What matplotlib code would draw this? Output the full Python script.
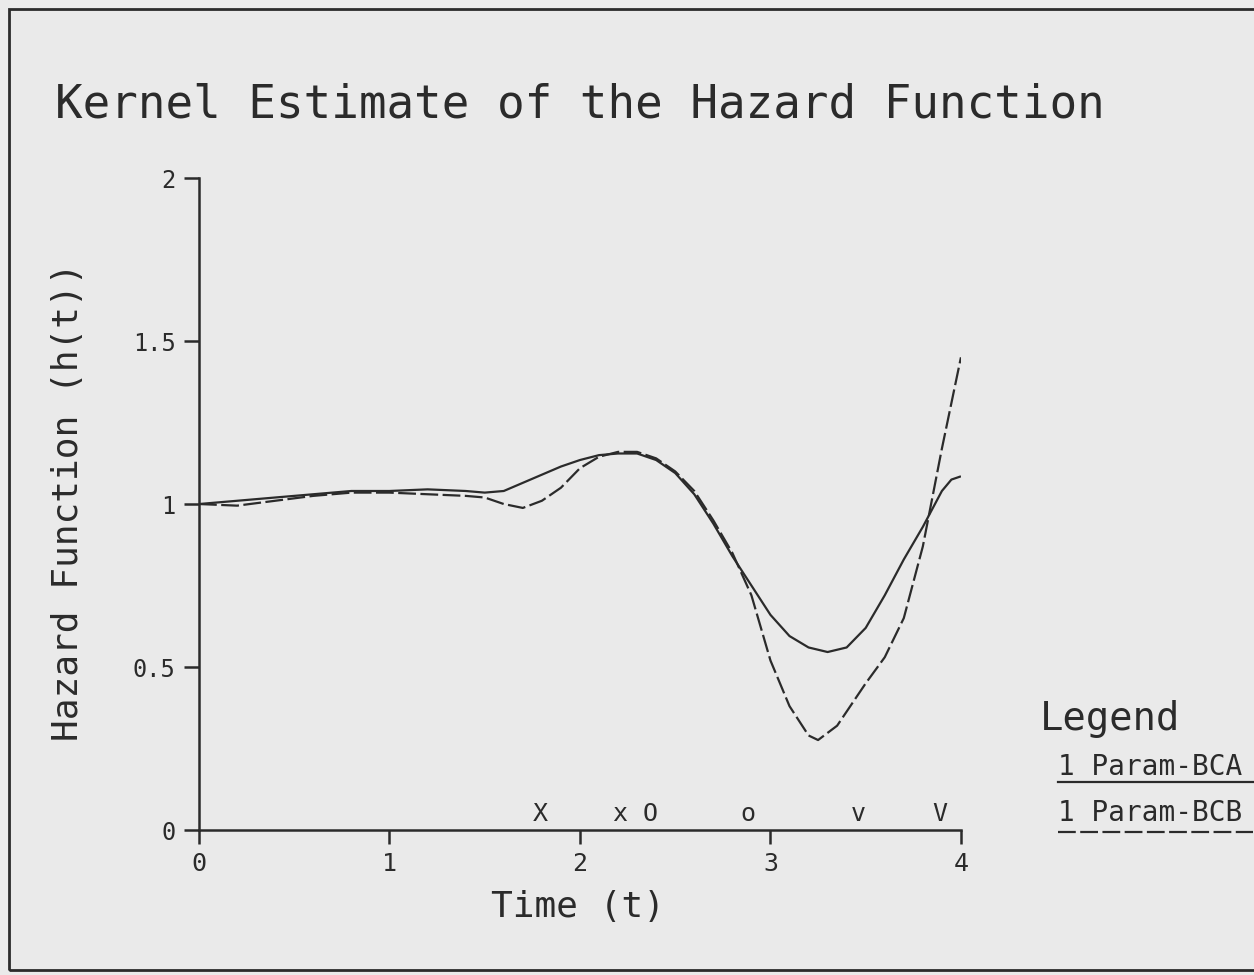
import matplotlib
matplotlib.use("Agg")
import matplotlib.pyplot as plt
from matplotlib.patches import Rectangle
from matplotlib.lines import Line2D

# Kernel hazard estimates
t_bca = [0.0, 0.2, 0.4, 0.6, 0.8, 1.0, 1.2, 1.4, 1.5, 1.6, 1.7, 1.8, 1.9, 2.0,
         2.1, 2.2, 2.3, 2.4, 2.5, 2.6, 2.7, 2.8, 2.9, 3.0, 3.1, 3.2, 3.3, 3.4,
         3.5, 3.6, 3.7, 3.8, 3.9, 3.95, 4.0]
h_bca = [1.00, 1.01, 1.02, 1.03, 1.04, 1.04, 1.045, 1.04, 1.035, 1.04, 1.065,
         1.09, 1.115, 1.135, 1.15, 1.155, 1.155, 1.135, 1.095, 1.03, 0.94, 0.84,
         0.75, 0.66, 0.595, 0.56, 0.546, 0.56, 0.62, 0.72, 0.83, 0.93, 1.04,
         1.075, 1.085]

t_bcb = [0.0, 0.2, 0.4, 0.6, 0.8, 1.0, 1.2, 1.4, 1.5, 1.6, 1.7, 1.8, 1.9, 2.0,
         2.1, 2.2, 2.3, 2.4, 2.5, 2.6, 2.7, 2.8, 2.9, 3.0, 3.1, 3.2, 3.25, 3.35,
         3.5, 3.6, 3.7, 3.8, 3.9, 4.0]
h_bcb = [1.00, 0.995, 1.01, 1.025, 1.035, 1.035, 1.03, 1.025, 1.02, 1.00, 0.988,
         1.01, 1.05, 1.11, 1.145, 1.16, 1.16, 1.14, 1.10, 1.04, 0.95, 0.85,
         0.72, 0.52, 0.38, 0.29, 0.276, 0.32, 0.45, 0.53, 0.65, 0.87, 1.17, 1.45]

# event symbols printed along the time axis
event_labels = ["X", "x", "O", "o", "v", "V"]
event_times = [1.79, 2.21, 2.37, 2.88, 3.46, 3.89]

xticks = [0, 1, 2, 3, 4]
yticks = [0, 0.5, 1, 1.5, 2]
ytick_labels = ["0", "0.5", "1", "1.5", "2"]

ink = "#2b2b2b"
paper = "#eaeaea"

# plotter-style lettering: monospaced keeps the even character pitch
plt.rcParams['font.family'] = ['DejaVu Sans Mono']

fig = plt.figure(figsize=(12.54, 9.75), dpi=100, facecolor=paper)
ax = fig.add_axes([0.1587, 0.1487, 0.6076, 0.6687])
ax.set_facecolor(paper)

ax.plot(t_bca, h_bca, color=ink, lw=1.6, solid_capstyle='butt')
ax.plot(t_bcb, h_bcb, color=ink, lw=1.6, linestyle=(0, (8, 2)))

for lab, tt in zip(event_labels, event_times):
    ax.text(tt, 0.012, lab, ha='center', va='bottom', fontsize=18, color=ink)

ax.set_xlim(0, 4)
ax.set_ylim(0, 2)
ax.set_xticks(xticks)
ax.set_yticks(yticks)
ax.set_yticklabels(ytick_labels)
for s in ['top', 'right']:
    ax.spines[s].set_visible(False)
for s in ['left', 'bottom']:
    ax.spines[s].set_color(ink)
    ax.spines[s].set_linewidth(1.8)
ax.tick_params(axis='both', direction='out', width=1.8, color=ink,
               labelcolor=ink)
ax.tick_params(axis='x', length=10, pad=6, labelsize=18)
ax.tick_params(axis='y', length=11, pad=6, labelsize=17)

fig.text(0.044, 0.88, "Kernel Estimate of the Hazard Function", fontsize=33,
         color=ink, ha='left', va='baseline')
fig.text(0.054, 0.485, "Hazard Function (h(t))", fontsize=26, color=ink,
         rotation=90, ha='center', va='center')
fig.text(0.461, 0.07, "Time (t)", fontsize=26, color=ink,
         ha='center', va='center')

# legend drawn as underlined labels
fig.text(0.829, 0.251, "Legend", fontsize=28, color=ink, ha='left', va='baseline')
fig.text(0.8437, 0.205, "1 Param-BCA", fontsize=20, color=ink, ha='left', va='baseline')
fig.text(0.8437, 0.158, "1 Param-BCB", fontsize=20, color=ink, ha='left', va='baseline')
fig.add_artist(Line2D([0.8437, 0.999], [0.198, 0.198], transform=fig.transFigure,
                      color=ink, lw=1.6))
fig.add_artist(Line2D([0.8437, 0.999], [0.147, 0.147], transform=fig.transFigure,
                      color=ink, lw=1.6, linestyle=(0, (8, 2))))

# scanned page frame
fig.add_artist(Rectangle((0.0072, 0.005), 1.1, 0.986, transform=fig.transFigure,
                         fill=False, edgecolor=ink, lw=2, clip_on=False))

fig.savefig("out.png", dpi=100, facecolor=paper)
